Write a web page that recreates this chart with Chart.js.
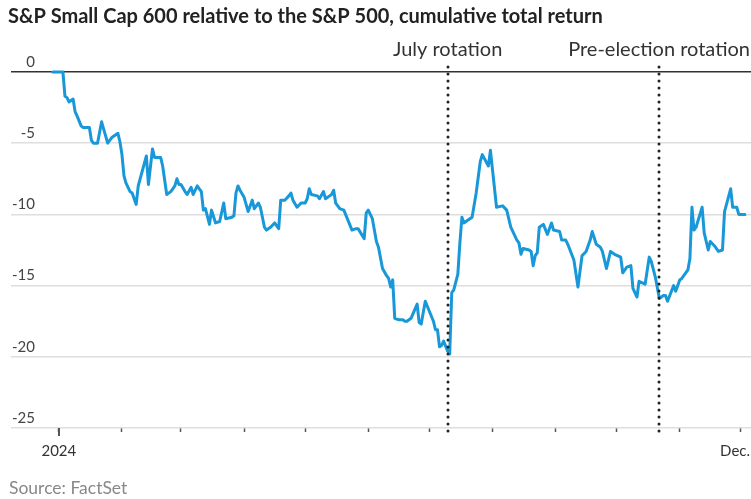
<!DOCTYPE html>
<html><head><meta charset="utf-8">
<script src="https://cdn.jsdelivr.net/npm/chart.js@4.4.1/dist/chart.umd.min.js"></script>
<style>html,body{margin:0;padding:0;background:#fff;}#wrap{width:751px;height:499px;position:relative;}</style>
</head><body><div id="wrap"><canvas id="c" width="751" height="499"></canvas></div>
<script>
const titleText = 'S&P Small Cap 600 relative to the S&P 500, cumulative total return';
const sourceText = 'Source: FactSet';
// x = day of 2024 (0 = Jan 1), y = cumulative relative total return (%)
const days = [-3,2,3,4,5,7,8,9,11,12,15,16,17,19,21,24,26,29,30,31,32,33,35,36,38,39,43,44,46,47,50,51,53,55,57,58,59,60,62,63,65,66,68,69,70,71,72,74,75,77,79,81,82,85,86,87,88,89,91,93,95,96,98,99,101,102,104,106,108,109,111,113,114,115,117,119,121,122,123,124,127,128,130,131,133,134,135,136,138,140,144,146,147,150,151,152,154,156,157,159,161,162,163,164,165,167,169,170,171,173,176,177,178,180,182,184,185,186,187,188,189,191,192,193,194,196,197,198,199,201,203,205,207,208,211,212,215,218,220,222,225,226,227,228,231,232,233,234,235,236,238,240,242,243,246,247,249,250,253,255,257,259,261,262,264,266,267,269,271,273,276,277,279,281,282,284,285,288,290,291,293,295,297,298,299,302,303,305,306,309,310,311,312,313,316,317,319,320,322,324,326,327,330,331,333,334,337];
const values = [0,0,-1.7,-1.8,-2.1,-1.9,-2.8,-3.1,-3.8,-3.9,-3.9,-4.8,-5.0,-5.0,-3.5,-5.0,-4.6,-4.3,-4.9,-5.8,-7.3,-7.8,-8.4,-8.5,-9.3,-8.0,-5.9,-7.9,-5.4,-6.0,-6.0,-6.6,-8.6,-8.4,-8.0,-7.5,-7.9,-7.9,-8.4,-8.6,-8.1,-8.6,-8.0,-8.2,-8.4,-9.7,-9.6,-10.7,-9.7,-10.6,-10.5,-9.2,-10.3,-10.2,-10.1,-8.5,-8.0,-8.3,-8.8,-9.8,-9.0,-9.6,-9.2,-9.5,-10.9,-11.1,-10.9,-10.6,-11.0,-9.0,-9.0,-8.7,-8.5,-9.0,-9.5,-9.2,-9.2,-8.9,-8.2,-8.6,-8.7,-8.9,-8.4,-8.9,-8.7,-8.6,-8.3,-9.2,-9.6,-9.7,-11.1,-11.0,-11.0,-11.7,-9.9,-9.7,-10.3,-11.9,-12.3,-13.8,-14.3,-14.5,-15.1,-14.6,-17.3,-17.4,-17.4,-17.5,-17.5,-17.3,-16.3,-17.6,-17.7,-16.1,-16.8,-17.5,-18.1,-18.1,-19.3,-19.2,-18.9,-19.6,-19.8,-15.5,-15.3,-14.2,-12.0,-10.2,-10.6,-10.4,-10.2,-8.5,-6.3,-5.8,-6.6,-5.5,-9.5,-9.4,-9.7,-10.9,-11.8,-12.0,-12.8,-12.4,-12.5,-12.6,-13.6,-12.9,-12.7,-10.9,-10.7,-11.4,-10.6,-11.1,-11.2,-11.8,-11.8,-12.1,-13.2,-15.1,-12.9,-12.6,-11.8,-11.2,-12.1,-12.3,-12.6,-13.8,-12.6,-12.8,-13.0,-14.1,-13.7,-13.6,-15.2,-15.8,-14.7,-14.9,-13.0,-13.3,-14.4,-15.9,-15.7,-15.7,-16.1,-15.0,-15.4,-14.6,-14.5,-13.9,-13.1,-9.5,-11.1,-10.9,-9.5,-11.3,-12.5,-11.9,-12.2,-12.6,-12.5,-9.8,-8.2,-9.5,-9.5,-10.0,-10.0];
const monthTickDays = [0,31,60,91,121,152,182,213,244,274,305,335];
const monthTickLabels = ['2024','','','','','','','','','','','Dec.'];
const yTickValues = [-25,-20,-15,-10,-5,0];
const eventDays = [191, 295];
const eventLabels = ['July rotation','Pre-election rotation'];

const FONT = 'Lato';

const decor = {
  id: 'decor',
  afterDatasetsDraw(chart) {
    const ctx = chart.ctx, xs = chart.scales.x, area = chart.chartArea;
    ctx.save();
    ctx.strokeStyle = '#222';
    ctx.lineWidth = 3;
    ctx.lineCap = 'round';
    ctx.setLineDash([0, 7]);
    eventDays.forEach(d => {
      const x = Math.round(xs.getPixelForValue(d));
      ctx.beginPath();
      ctx.moveTo(x, 67);
      ctx.lineTo(x, area.bottom + 4);
      ctx.stroke();
    });
    ctx.restore();
  },
  afterDraw(chart) {
    const ctx = chart.ctx, xs = chart.scales.x, area = chart.chartArea;
    const W = chart.width;
    ctx.save();
    ctx.textBaseline = 'middle';
    ctx.fillStyle = '#222';
    ctx.font = 'bold 20px ' + FONT;
    ctx.textAlign = 'left';
    ctx.fillText(titleText, 8, 17);
    ctx.fillStyle = '#333';
    ctx.font = '20px ' + FONT;
    ctx.textAlign = 'center';
    eventDays.forEach((d, i) => {
      let x = xs.getPixelForValue(d);
      const w = ctx.measureText(eventLabels[i]).width;
      if (x + w / 2 > W - 1) x = W - 1 - w / 2;
      ctx.fillText(eventLabels[i], x, 50);
    });
    ctx.font = '15px ' + FONT;
    monthTickDays.forEach((d, i) => {
      const lab = monthTickLabels[i];
      if (!lab) return;
      let x = xs.getPixelForValue(d);
      const w = ctx.measureText(lab).width;
      if (x + w / 2 > W - 1) x = W - 1 - w / 2;
      ctx.fillText(lab, x, area.bottom + 23);
    });
    ctx.strokeStyle = '#555';
    ctx.lineWidth = 2;
    const x0 = Math.round(xs.getPixelForValue(monthTickDays[0]));
    ctx.beginPath(); ctx.moveTo(x0, area.bottom); ctx.lineTo(x0, area.bottom + 8); ctx.stroke();
    ctx.fillStyle = '#888';
    ctx.font = '17.5px ' + FONT;
    ctx.textAlign = 'left';
    ctx.fillText(sourceText, 9, 488);
    ctx.restore();
  }
};

new Chart(document.getElementById('c'), {
  type: 'line',
  data: {
    datasets: [{
      data: days.map((d, i) => ({x: d, y: values[i]})),
      borderColor: '#1898d8',
      borderWidth: 3,
      pointRadius: 0,
      tension: 0,
      borderJoinStyle: 'round',
      borderCapStyle: 'round',
      clip: 4
    }]
  },
  options: {
    responsive: false,
    animation: false,
    events: [],
    layout: { padding: { left: 9, right: 0, top: 72, bottom: 67 } },
    plugins: { legend: { display: false }, tooltip: { enabled: false }, title: { display: false } },
    scales: {
      x: {
        type: 'linear', min: -23.5, max: 340,
        afterBuildTicks: axis => { axis.ticks = monthTickDays.map(v => ({value: v})); },
        ticks: { display: false },
        grid: { drawOnChartArea: false, drawTicks: true, tickLength: 4, tickColor: '#555', tickWidth: 1.5 },
        border: { display: false }
      },
      y: {
        type: 'linear', min: -25, max: 0,
        afterBuildTicks: axis => { axis.ticks = yTickValues.map(v => ({value: v})); },
        ticks: {
          mirror: true, crossAlign: 'far', padding: 1, labelOffset: -10,
          color: '#444', font: { family: FONT, size: 15 },
          callback: v => String(v)
        },
        grid: {
          drawTicks: false,
          color: c => c.tick && c.tick.value === 0 ? '#333' : '#dedede',
          lineWidth: 1.5
        },
        border: { display: false }
      }
    }
  },
  plugins: [decor]
});
</script></body></html>
